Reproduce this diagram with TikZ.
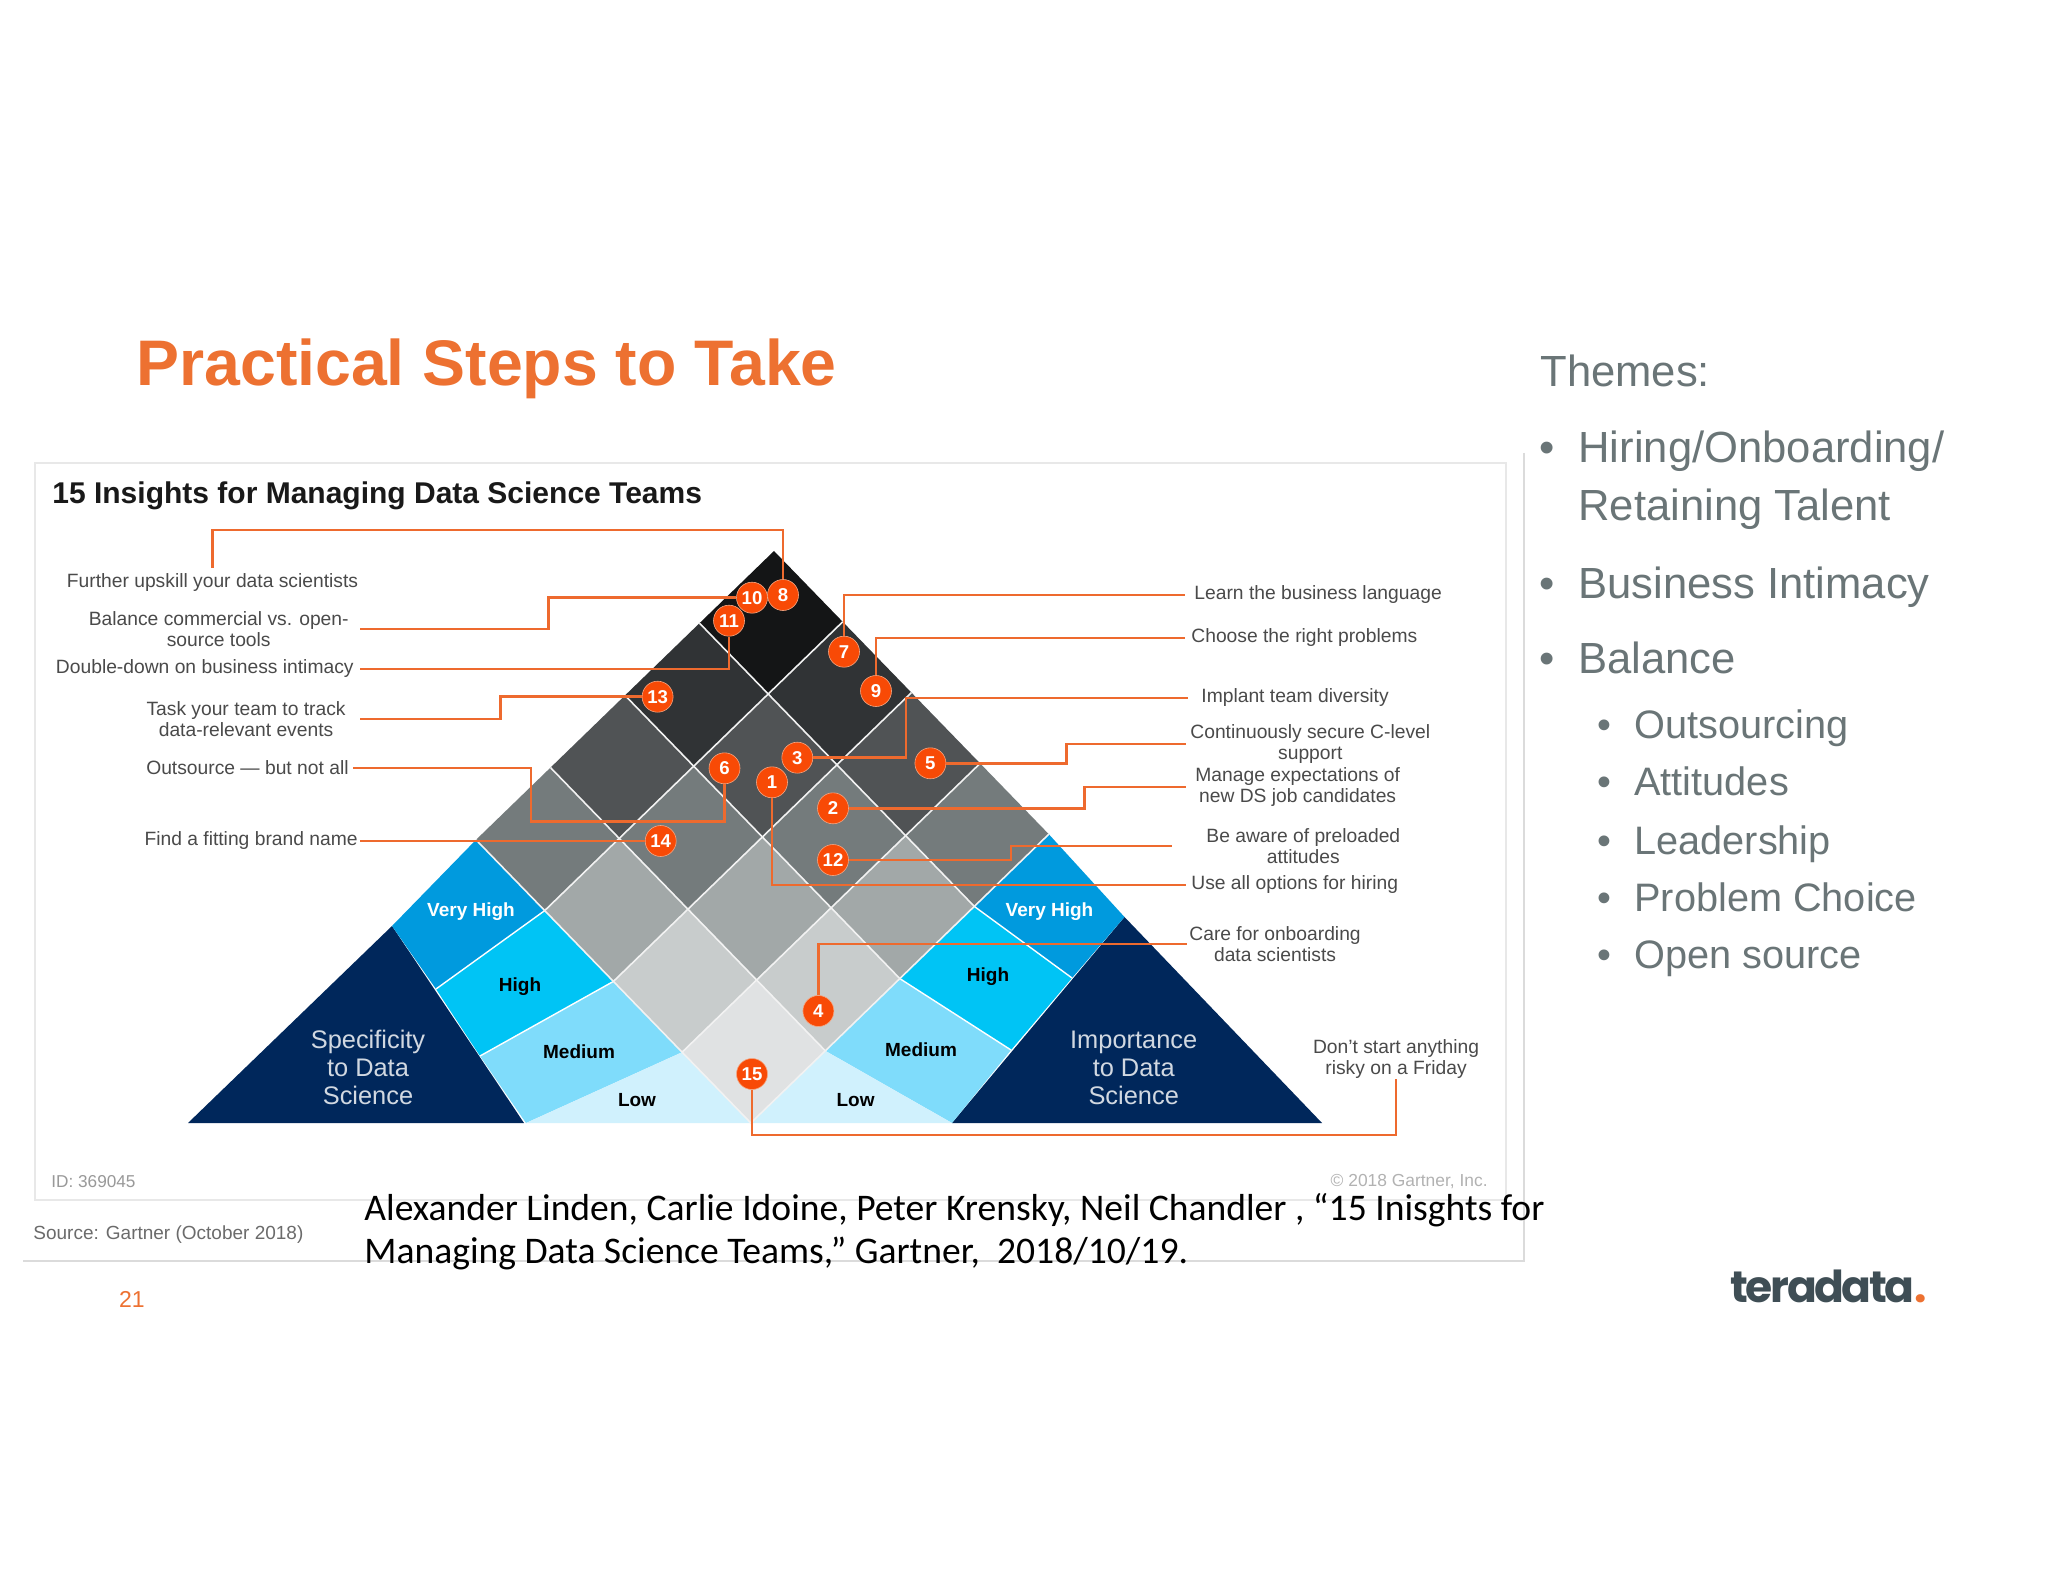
\documentclass[tikz,border=0pt]{standalone}
\usepackage{fontspec}
\setmainfont{Liberation Sans}
\newfontfamily\citefont{Carlito}
\newfontfamily\logofont[LetterSpace=-5.5]{Poppins}
\definecolor{conn}{HTML}{EE6A2E}
\definecolor{badgec}{HTML}{F84A06}
\definecolor{navyc}{HTML}{00275B}
\definecolor{vhc}{HTML}{009ADE}
\definecolor{hc}{HTML}{00C4F5}
\definecolor{mc}{HTML}{7FDCFB}
\definecolor{lc}{HTML}{D0F1FD}
\definecolor{lblc}{HTML}{4A4A4A}
\definecolor{themec}{HTML}{6A7577}
\definecolor{titlec}{HTML}{ED7131}
\definecolor{logoc}{HTML}{3F4E55}
\definecolor{shA}{HTML}{141516}
\definecolor{shB}{HTML}{303335}
\definecolor{shC}{HTML}{505355}
\definecolor{shD}{HTML}{747B7C}
\definecolor{shE}{HTML}{A2A8A8}
\definecolor{shF}{HTML}{C8CCCC}
\definecolor{shG}{HTML}{E0E2E3}
\tikzset{
  lbl/.style={font=\fontsize{9.63}{10.5}\selectfont,text=lblc,align=center,inner ysep=1pt,inner xsep=1pt},
  connline/.style={draw=conn,line width=1.3pt},
  badge/.style={circle,fill=badgec,draw=conn!60!white,line width=0.3pt,minimum size=15.5pt,inner sep=0pt,text=white,font=\fontsize{9.3}{10}\selectfont\bfseries},
  wingb/.style={font=\fontsize{9.5}{10}\selectfont\bfseries,inner sep=0pt},
  wingt/.style={font=\fontsize{12.7}{14}\selectfont,text=white!82!navyc,align=center,inner sep=0pt},
  cellline/.style={draw=white!90!gray,line width=0.8pt,line join=miter},
  theme/.style={font=\fontsize{21.8}{29}\selectfont,text=themec,anchor=base west,inner sep=0pt},
  subtheme/.style={font=\fontsize{19.85}{24}\selectfont,text=themec,anchor=base west,inner sep=0pt},
  frameline/.style={draw=black!9,line width=1pt},
}
\begin{document}
\begin{tikzpicture}[x=0.5pt,y=-0.5pt]
\useasboundingbox (0,0) rectangle (2048,1582);
\fill[white] (0,0) rectangle (2048,1582);
% frame
\draw[frameline] (35,1200) -- (35,463) -- (1506,463) -- (1506,1200) -- cycle;
\draw[draw=black!14,line width=0.6pt] (1524,453) -- (1524,1261) -- (23,1261);
% wings
\fill[navyc] (188,1123) -- (524,1123) -- (392,926) -- cycle;
\fill[navyc] (952,1123) -- (1322,1123) -- (1124.5,917) -- cycle;
% lattice
\foreach \i in {0,...,4}{\foreach \j in {0,...,4}{
  \pgfmathsetmacro{\px}{774-74.5*\i+68.7*\j}
  \pgfmathsetmacro{\py}{551+72.2*\i+70.8*\j}
  \coordinate (p\i\j) at (\px,\py);
}}
\fill[vhc] (p40) -- (392,926) -- (436,989) -- (p41) -- cycle;
\fill[hc]  (436,989) -- (p41) -- (p42) -- (480,1056) -- cycle;
\fill[mc]  (480,1056) -- (p42) -- (p43) -- (526,1123) -- cycle;
\fill[lc]  (526,1123) -- (p43) -- (p44) -- cycle;
\fill[vhc] (p04) -- (1124.5,917) -- (1072,978) -- (p14) -- cycle;
\fill[hc]  (p14) -- (1072,978) -- (1011,1050) -- (p24) -- cycle;
\fill[mc]  (p24) -- (1011,1050) -- (952,1123) -- (p34) -- cycle;
\fill[lc]  (p34) -- (952,1123) -- (p44) -- cycle;
\draw[white,line width=0.7pt] (436,989) -- (p41) (480,1056) -- (p42) (p14) -- (1072,978) (p24) -- (1011,1050);
\foreach \i/\j/\c in {0/0/shA,1/0/shB,0/1/shB,2/0/shC,1/1/shC,0/2/shC,3/0/shD,2/1/shD,1/2/shD,0/3/shD,3/1/shE,2/2/shE,1/3/shE,3/2/shF,2/3/shF,3/3/shG}{
  \pgfmathtruncatemacro{\ii}{\i+1}\pgfmathtruncatemacro{\jj}{\j+1}
  \fill[\c] (p\i\j) -- (p\ii\j) -- (p\ii\jj) -- (p\i\jj) -- cycle;
}
\foreach \k in {1,2,3}{
  \pgfmathtruncatemacro{\kk}{\k}
  \draw[cellline] (p\kk0) -- (p\kk4);
  \draw[cellline] (p0\kk) -- (p4\kk);
}
\draw[cellline] (p40) -- (p44) -- (p04);
% wing labels
\node[wingb,text=white] (vhl) at (471,912) {Very High};
\node[wingb,text=black] (hl) at (520,987) {High};
\node[wingb,text=black] (ml) at (579,1052) {Medium};
\node[wingb,text=black] (ll) at (637,1100) {Low};
\node[wingb,text=white] (vhr) at (1049.5,912) {Very High};
\node[wingb,text=black] (hr) at (988,977) {High};
\node[wingb,text=black] (mr) at (921,1050) {Medium};
\node[wingb,text=black] (lr) at (855.6,1100) {Low};
\node[wingt] (spec) at (368,1067) {Specificity\\to Data\\Science};
\node[wingt] (imp) at (1133.7,1068) {Importance\\to Data\\Science};
% left labels
\node[lbl,anchor=north,inner ysep=2.5pt] (l8) at (212.5,568) {Further upskill your data scientists};
\node[lbl,anchor=east,inner xsep=5.5pt] (l10) at (360,629) {Balance commercial vs. open-\\source tools};
\node[lbl,anchor=east,inner xsep=3pt] (l11) at (360,669) {Double-down on business intimacy};
\node[lbl,anchor=east,inner xsep=7pt] (l13) at (360,719) {Task your team to track\\data-relevant events};
\node[lbl,anchor=east,inner xsep=2pt] (l6) at (353,768) {Outsource — but not all};
\node[lbl,anchor=east,inner xsep=1pt] (l14) at (360,841) {Find a fitting brand name};
% right labels
\node[lbl,anchor=west,inner xsep=4.5pt] (l7) at (1185,595) {Learn the business language};
\node[lbl,anchor=west,inner xsep=3pt] (l9) at (1185,638) {Choose the right problems};
\node[lbl,anchor=west,inner xsep=6.5pt] (l3) at (1188,698) {Implant team diversity};
\node[lbl,anchor=west,inner xsep=2pt] (l5) at (1186,744) {Continuously secure C-level\\support};
\node[lbl,anchor=west,inner xsep=4.5pt] (l2) at (1186,787) {Manage expectations of\\new DS job candidates};
\node[lbl,anchor=west,inner xsep=17pt] (l12) at (1172,846) {Be aware of preloaded\\attitudes};
\node[lbl,anchor=west,inner xsep=2.5pt] (l1) at (1186,885) {Use all options for hiring};
\node[lbl,anchor=west,inner xsep=1pt] (l4) at (1187,944) {Care for onboarding\\data scientists};
\node[lbl,anchor=south,inner ysep=0pt] (l15) at (1396,1079) {Don't start anything\\risky on a Friday};
% badges
\foreach \n/\x/\y in {8/783/595,10/752/597.7,11/729/620.7,7/844/651.7,9/876/691,13/657.6/696.7,3/797.3/757.7,5/930.4/763.3,6/724.5/768.3,1/772/782.3,2/833/808.3,14/660.7/841,12/833/860,4/818.4/1011,15/752/1074}{
  \node[badge] (b\n) at (\x,\y) {};
}
% connectors
\draw[connline] (b8.north) -- (783,530) -- (212.5,530) -- (l8.north);
\draw[connline] (l10.east) -| (548.7,597.7) -- (b10.west);
\draw[connline] (l11.east) -| (b11.south);
\draw[connline] (l13.east) -| (500.4,696.7) -- (b13.west);
\draw[connline] (l6.east) -| (530.8,821.7) -| (b6.south);
\draw[connline] (l14.east) -- (b14.west);
\draw[connline] (b7.north) |- (l7.west);
\draw[connline] (b9.north) |- (l9.west);
\draw[connline] (b3.east) -| (905.8,698) -- (l3.west);
\draw[connline] (b5.east) -| (1066.5,744) -- (l5.west);
\draw[connline] (b2.east) -| (1084.4,787) -- (l2.west);
\draw[connline] (b12.east) -| (1011,846) -- (l12.west);
\draw[connline] (b1.south) |- (l1.west);
\draw[connline] (b4.north) |- (l4.west);
\draw[connline] (b15.south) -- (752,1135) -- (1396,1135) -- (l15.south);
% badge numbers on top
\foreach \n in {8,10,11,7,9,13,3,5,6,1,2,14,12,4,15}{
  \node[badge,draw=none,fill=none] (n\n) at (b\n) {\n};
}
% titles
\node[font=\fontsize{32.2}{34}\selectfont\bfseries,text=titlec,anchor=west,inner sep=0pt] (title) at (136,369) {Practical Steps to Take};
\node[font=\fontsize{15}{16}\selectfont\bfseries,text=black!90,anchor=west,inner sep=0pt] (ptitle) at (52,496) {15 Insights for Managing Data Science Teams};
\node[font=\fontsize{8.6}{10}\selectfont,text=black!40,anchor=west,inner sep=0pt] (idt) at (51,1182) {ID: 369045};
\node[font=\fontsize{8.7}{10}\selectfont,text=black!30,anchor=east,inner sep=0pt] (copyr) at (1488,1182) {© 2018 Gartner, Inc.};
\node[font=\fontsize{9.5}{11}\selectfont,text=black!58,anchor=west,inner sep=0pt] (src) at (33,1235) {Source: Gartner (October 2018)};
\node[font=\fontsize{11.5}{12}\selectfont,text=titlec,inner sep=0pt] (pgn) at (132,1299) {21};
\node[font=\citefont\fontsize{18.8}{21.5}\selectfont,text=black,anchor=north west,inner sep=0pt,align=left] (cite) at (364,1193) {Alexander Linden, Carlie Idoine, Peter Krensky, Neil Chandler , “15 Inisghts for\\Managing Data Science Teams,” Gartner,\ \ 2018/10/19.};
\node[font=\logofont\fontsize{22}{24}\selectfont\bfseries,text=logoc,anchor=base west,inner sep=0pt] (logo) at (1730,1302) {teradata{\color{titlec}.}};
% themes
\node[theme] (th0) at (1540,387) {Themes:};
\node[theme] (b1t) at (1539,463) {•};
\node[theme] (th1) at (1578,463) {Hiring/Onboarding/};
\node[theme] (th1b) at (1578,521) {Retaining Talent};
\node[theme] (b2t) at (1539,598) {•};
\node[theme] (th2) at (1578,598) {Business Intimacy};
\node[theme] (b3t) at (1539,673) {•};
\node[theme] (th3) at (1578,673) {Balance};
\foreach \t/\y/\nm in {Outsourcing/738/a,Attitudes/795/b,Leadership/854/c,Problem Choice/911/d,Open source/968/e}{
  \node[subtheme] (sb\nm) at (1597,\y) {•};
  \node[subtheme] (st\nm) at (1634,\y) {\t};
}
\end{tikzpicture}
\end{document}
